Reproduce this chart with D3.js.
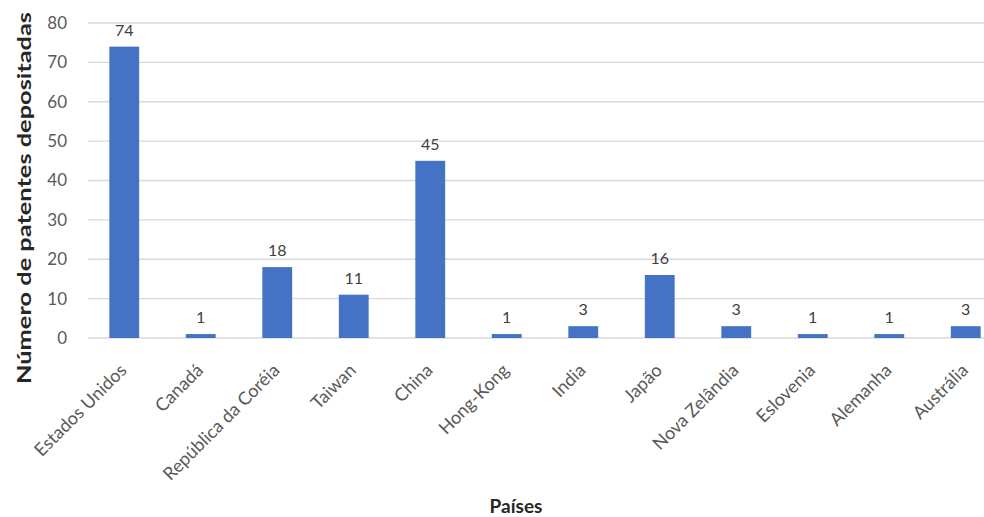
<!DOCTYPE html>
<html>
<head>
<meta charset="utf-8">
<script src="https://cdn.jsdelivr.net/npm/d3@7"></script>
<style>
  html, body { margin: 0; padding: 0; background: #fff; }
  svg { display: block; }
</style>
</head>
<body>
<svg id="chart" width="984" height="517"></svg>
<script>
// Patents filed per country
const countries = ["Estados Unidos", "Canadá", "República da Coréia", "Taiwan", "China", "Hong-Kong",
                   "India", "Japão", "Nova Zelândia", "Eslovenia", "Alemanha", "Austrália"];
const patents = [74, 1, 18, 11, 45, 1, 3, 16, 3, 1, 1, 3];
const yTicks = [0, 10, 20, 30, 40, 50, 60, 70, 80];

const svg = d3.select("#chart");
const font = "Lato, 'Open Sans', sans-serif";

const x = d3.scaleBand().domain(countries).range([86, 1004]).paddingInner(0.61).paddingOuter(0.305);
const y = d3.scaleLinear().domain([0, 80]).range([338, 23]);

// gridlines
svg.append("g").selectAll("line").data(yTicks).join("line")
  .attr("x1", 88).attr("x2", 984)
  .attr("y1", d => y(d)).attr("y2", d => y(d))
  .attr("stroke", "#d9d9d9").attr("stroke-width", 1.3);

// y axis labels
const yAxis = svg.append("g").attr("transform", "translate(67,0)")
  .call(d3.axisLeft(y).tickValues(yTicks).tickSize(0).tickPadding(0));
yAxis.select(".domain").remove();
yAxis.selectAll("text").attr("font-family", font).attr("font-size", 17)
  .attr("fill", "#595959").attr("text-anchor", "end");

// bars
svg.append("g").selectAll("rect").data(countries).join("rect")
  .attr("x", d => x(d)).attr("width", x.bandwidth())
  .attr("y", (d, i) => y(patents[i]))
  .attr("height", (d, i) => y(0) - y(patents[i]))
  .attr("fill", "#4472C4");

// value labels
svg.append("g").selectAll("text").data(countries).join("text")
  .attr("x", d => x(d) + x.bandwidth() / 2)
  .attr("y", (d, i) => y(patents[i]) - 11)
  .attr("text-anchor", "middle")
  .attr("font-family", font).attr("font-size", 16).attr("fill", "#404040")
  .text((d, i) => patents[i]);

// x axis category labels
const xAxis = svg.append("g").attr("transform", `translate(0,${y(0)})`)
  .call(d3.axisBottom(x).tickSize(0).tickPadding(0));
xAxis.select(".domain").remove();
xAxis.selectAll("text")
  .attr("font-family", font).attr("font-size", 18).attr("fill", "#595959")
  .attr("text-anchor", "end")
  .attr("transform", "translate(-1,29) rotate(-45)")
  .attr("dy", "0.35em");

// axis titles
svg.append("text")
  .attr("transform", "translate(24,198) rotate(-90)")
  .attr("text-anchor", "middle")
  .attr("dy", "0.35em")
  .attr("font-family", font).attr("font-size", 19).attr("font-weight", "bold")
  .attr("fill", "#262626")
  .attr("textLength", 372).attr("lengthAdjust", "spacingAndGlyphs")
  .text("Número de patentes depositadas");

svg.append("text")
  .attr("x", 516).attr("y", 513)
  .attr("text-anchor", "middle")
  .attr("font-family", font).attr("font-size", 19).attr("font-weight", "bold")
  .attr("fill", "#262626")
  .text("Países");
</script>
</body>
</html>
